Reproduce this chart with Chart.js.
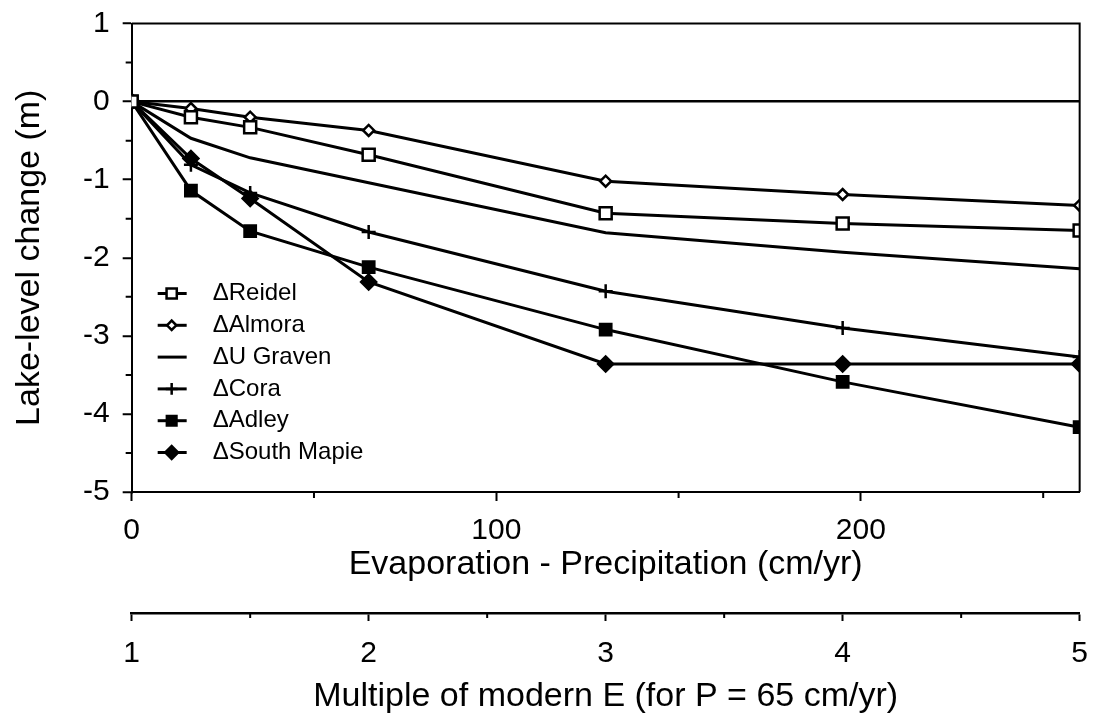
<!DOCTYPE html>
<html>
<head>
<meta charset="utf-8">
<script src="https://cdn.jsdelivr.net/npm/chart.js@4.4.1/dist/chart.umd.min.js"></script>
<style>
  html, body { margin: 0; padding: 0; background: #fff; }
  #lakeChart { display: block; }
</style>
</head>
<body>
<canvas id="lakeChart" width="1104" height="715"></canvas>
<script>
// E - P values (cm/yr) for 1, 1.25, 1.5, 2, 3, 4 and 5 times modern E
const evapMinusPrecip = [0, 16.25, 32.5, 65, 130, 195, 260];

// lake-level change (m)
const reidel     = [0, -0.20, -0.33, -0.68, -1.43, -1.56, -1.65];
const almora     = [0, -0.09, -0.20, -0.37, -1.02, -1.19, -1.33];
const uGraven    = [0, -0.47, -0.72, -1.04, -1.68, -1.93, -2.14];
const cora       = [0, -0.81, -1.17, -1.67, -2.43, -2.90, -3.27];
const adley      = [0, -1.14, -1.66, -2.12, -2.92, -3.59, -4.17];
const southMaple = [0, -0.73, -1.24, -2.31, -3.36, -3.36, -3.36];

const lakeNames = ['\u0394Reidel', '\u0394Almora', '\u0394U Graven', '\u0394Cora', '\u0394Adley', '\u0394South Mapie'];

// minor tick positions for each axis
const yMinor = [-4.5, -3.5, -2.5, -1.5, -0.5, 0.5];
const xMinor = [50, 150, 250];
const multMinor = [1.5, 2.5, 3.5, 4.5];

Chart.defaults.font.family = "'Liberation Sans', Arial, Helvetica, sans-serif";
Chart.defaults.color = '#000';

function points(ys) {
  return ys.map((y, i) => ({ x: evapMinusPrecip[i], y: y }));
}

function series(i, ys, style, radius, fill) {
  return {
    label: lakeNames[i],
    data: points(ys),
    borderColor: '#000',
    borderWidth: 3,
    pointStyle: style,
    pointRadius: radius,
    pointBorderWidth: 2.5,
    pointBackgroundColor: fill,
    pointBorderColor: '#000',
    tension: 0
  };
}

const datasets = [
  series(0, reidel, 'rect', 8.5, '#fff'),
  series(1, almora, 'rectRot', 5.5, '#fff'),
  series(2, uGraven, 'line', 0, '#000'),
  series(3, cora, 'cross', 7, '#000'),
  series(4, adley, 'rect', 8, '#000'),
  series(5, southMaple, 'rectRot', 7.5, '#000')
];

// frame on top and right of the plot
const frame = {
  id: 'frame',
  afterDatasetsDraw(chart) {
    const { ctx, chartArea: a } = chart;
    ctx.save();
    ctx.strokeStyle = '#000';
    ctx.lineWidth = 2;
    ctx.beginPath();
    ctx.moveTo(a.left, a.top);
    ctx.lineTo(a.right, a.top);
    ctx.lineTo(a.right, a.bottom);
    ctx.stroke();
    ctx.restore();
  }
};

// short half-step ticks
const minorTicks = {
  id: 'minorTicks',
  afterDraw(chart) {
    const { ctx, scales } = chart;
    ctx.save();
    ctx.strokeStyle = '#000';
    ctx.lineWidth = 2;
    ctx.beginPath();
    yMinor.forEach(v => {
      const py = scales.y.getPixelForValue(v);
      ctx.moveTo(scales.y.right, py);
      ctx.lineTo(scales.y.right - 6, py);
    });
    xMinor.forEach(v => {
      const px = scales.x.getPixelForValue(v);
      ctx.moveTo(px, scales.x.top);
      ctx.lineTo(px, scales.x.top + 6);
    });
    multMinor.forEach(v => {
      const px = scales.x2.getPixelForValue(v);
      ctx.moveTo(px, scales.x2.top);
      ctx.lineTo(px, scales.x2.top + 5);
    });
    ctx.stroke();
    ctx.restore();
  }
};

// key in the lower left corner of the plot
const lakeKey = {
  id: 'lakeKey',
  afterDraw(chart) {
    const { ctx, chartArea: a } = chart;
    const x0 = a.left + 26, x1 = a.left + 55, xm = a.left + 40, xt = a.left + 81;
    ctx.save();
    ctx.font = "24px 'Liberation Sans', Arial, sans-serif";
    ctx.textBaseline = 'middle';
    chart.data.datasets.forEach((ds, i) => {
      const y = a.top + 270 + i * 31.8;
      ctx.strokeStyle = '#000';
      ctx.lineWidth = 3;
      ctx.beginPath();
      ctx.moveTo(x0, y);
      ctx.lineTo(x1, y);
      ctx.stroke();
      if (ds.pointRadius > 0) {
        ctx.fillStyle = ds.pointBackgroundColor;
        ctx.lineWidth = ds.pointBorderWidth;
        Chart.helpers.drawPoint(ctx, {
          pointStyle: ds.pointStyle,
          radius: ds.pointRadius * 0.85,
          rotation: 0,
          borderWidth: ds.pointBorderWidth
        }, xm, y);
      }
      ctx.fillStyle = '#000';
      ctx.fillText(ds.label, xt, y);
    });
    ctx.restore();
  }
};

new Chart(document.getElementById('lakeChart'), {
  type: 'line',
  data: { datasets: datasets },
  options: {
    responsive: false,
    animation: false,
    layout: { padding: { top: 8, right: 14, left: 0, bottom: 0 } },
    plugins: {
      legend: { display: false },
      tooltip: { enabled: false }
    },
    scales: {
      x: {
        type: 'linear',
        position: 'bottom',
        min: 0,
        max: 260,
        ticks: { stepSize: 100, includeBounds: false, padding: 13, font: { size: 30, lineHeight: '34px' } },
        grid: { drawOnChartArea: false, tickLength: 9, tickColor: '#000', tickWidth: 2 },
        border: { color: '#000', width: 2 },
        title: {
          display: true,
          text: 'Evaporation - Precipitation (cm/yr)',
          font: { size: 34, lineHeight: '8px' },
          padding: { top: 0, bottom: 44 }
        }
      },
      x2: {
        type: 'linear',
        position: 'bottom',
        min: 1,
        max: 5,
        ticks: { stepSize: 1, padding: 16, font: { size: 30, lineHeight: '34px' } },
        grid: { drawOnChartArea: false, tickLength: 8, tickColor: '#000', tickWidth: 2 },
        border: { color: '#000', width: 2.5 },
        title: {
          display: true,
          text: 'Multiple of modern E (for P = 65 cm/yr)',
          font: { size: 34, lineHeight: '10px' },
          padding: { top: 5, bottom: 13 }
        }
      },
      y: {
        type: 'linear',
        min: -5,
        max: 1,
        ticks: { stepSize: 1, padding: 13, font: { size: 30, lineHeight: '21px' } },
        grid: {
          color: c => (c.tick && c.tick.value === 0 ? '#000' : 'rgba(0,0,0,0)'),
          lineWidth: 2.5,
          tickLength: 9,
          tickColor: '#000',
          tickWidth: 2
        },
        border: { color: '#000', width: 2 },
        title: {
          display: true,
          text: 'Lake-level change (m)',
          font: { size: 34, lineHeight: 1 },
          padding: { top: 13, bottom: 23 }
        }
      }
    }
  },
  plugins: [frame, minorTicks, lakeKey]
});
</script>
</body>
</html>
